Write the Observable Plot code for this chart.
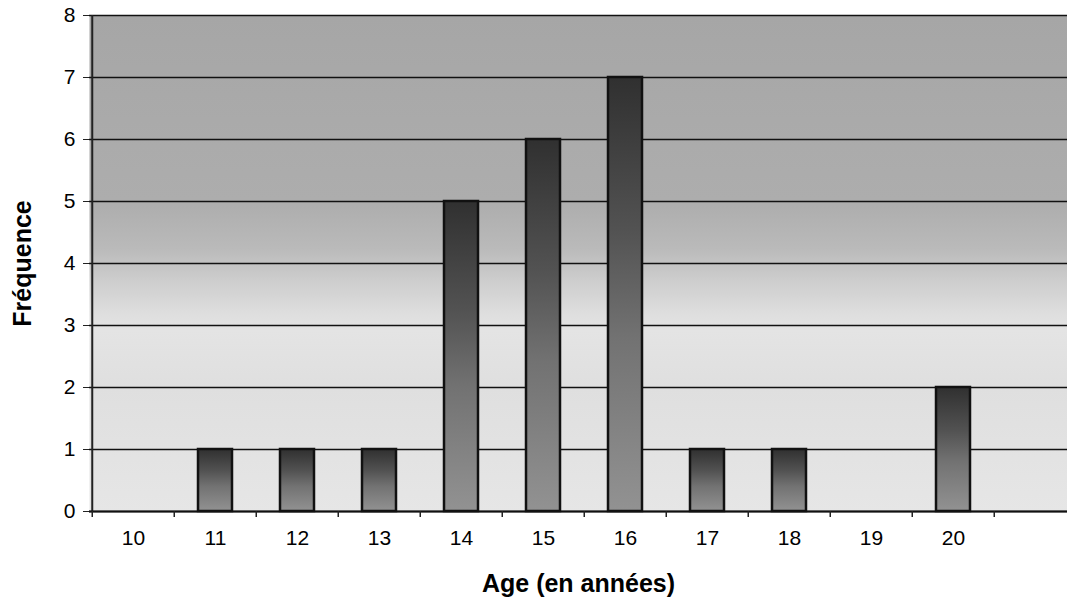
<!DOCTYPE html>
<html>
<head>
<meta charset="utf-8">
<script src="https://cdn.jsdelivr.net/npm/d3@7"></script>
<script src="https://cdn.jsdelivr.net/npm/@observablehq/plot@0.6"></script>
<style>
  html, body { margin: 0; padding: 0; background: #fff; overflow: hidden; }
</style>
</head>
<body>
<div id="chart"></div>
<script>
// ---- data ----
const ages = ["10", "11", "12", "13", "14", "15", "16", "17", "18", "19", "20"];
const emptySlot = ["21"]; // unlabeled category at the right edge (cut off)
const frequencies = [0, 1, 1, 1, 5, 6, 7, 1, 1, 0, 2];
const yTicks = [0, 1, 2, 3, 4, 5, 6, 7, 8];
const xTitle = "Age (en années)";
const yTitle = "Fréquence";

const table = ages.map((a, i) => ({age: a, freq: frequencies[i]}));
const domainX = ages.concat(emptySlot);
const step = 82.5;

const chart = Plot.plot({
  width: 1067,
  height: 598,
  marginTop: 15,
  marginRight: 0,
  marginBottom: 87,
  marginLeft: 89,
  style: {fontFamily: "'Liberation Sans', Arial, sans-serif", fontSize: "21px", color: "black", background: "white"},
  x: {type: "band", domain: domainX, range: [89, 89 + step * domainX.length], paddingInner: 0.59, paddingOuter: 0.295, label: null},
  y: {domain: [0, 8], label: null},
  marks: [
    Plot.frame({fill: "url(#bgGrad)", stroke: null}),
    Plot.frame({fill: "url(#dotTex)", stroke: null}),
    Plot.gridY(yTicks, {stroke: "#111", strokeOpacity: 1, strokeWidth: 1.4}),
    Plot.barY(table.filter(d => d.freq > 0), {x: "age", y: "freq", fill: "url(#barGrad)", stroke: "#111", strokeWidth: 2.5}),
    Plot.ruleX([domainX[0]], {dx: -step / 2, stroke: "#222", strokeWidth: 2}),
    Plot.ruleY([0], {stroke: "#111", strokeWidth: 2}),
    Plot.ruleX(domainX, {x: d => d, y1: 0, y2: 0, dx: -step / 2, insetTop: 6, stroke: "#222", strokeWidth: 1.5}),
    Plot.axisY(yTicks, {label: null, tickSize: 6, tickPadding: 8, fontSize: 21, tickFormat: "d", stroke: "#222"}),
    Plot.axisX({label: null, tickSize: 0, tickPadding: 19, fontSize: 21, tickFormat: d => (emptySlot.includes(d) ? "" : d)}),
    Plot.text([yTitle], {frameAnchor: "left", textAnchor: "middle", lineAnchor: "middle", rotate: -90, dx: -67, fontSize: 25, fontWeight: "bold", letterSpacing: "1.5px"}),
    Plot.text([xTitle], {frameAnchor: "bottom", textAnchor: "middle", lineAnchor: "middle", dy: 72, fontSize: 25, fontWeight: "bold", letterSpacing: "1px"})
  ]
});

// gradient / texture definitions
const svg = d3.select(chart);
const defs = svg.insert("defs", ":first-child");
const bg = defs.append("linearGradient").attr("id", "bgGrad").attr("x1", 0).attr("y1", 0).attr("x2", 0).attr("y2", 1);
[[0, "#a8a8a8"], [0.37, "#afafaf"], [0.47, "#bdbdbd"], [0.53, "#d0d0d0"], [0.595, "#e2e2e2"], [0.635, "#e9e9e9"], [0.75, "#e4e4e4"], [1, "#ebebeb"]]
  .forEach(([o, c]) => bg.append("stop").attr("offset", o).attr("stop-color", c));
const bar = defs.append("linearGradient").attr("id", "barGrad").attr("x1", 0).attr("y1", 0).attr("x2", 0).attr("y2", 1);
[[0, "#303030"], [0.35, "#525252"], [0.6, "#727272"], [1, "#929292"]]
  .forEach(([o, c]) => bar.append("stop").attr("offset", o).attr("stop-color", c));
const pat = defs.append("pattern").attr("id", "dotTex").attr("width", 2).attr("height", 2).attr("patternUnits", "userSpaceOnUse");
pat.append("rect").attr("x", 0).attr("y", 0).attr("width", 1).attr("height", 1).attr("fill", "#000").attr("fill-opacity", 0.1);
pat.append("rect").attr("x", 1).attr("y", 1).attr("width", 1).attr("height", 1).attr("fill", "#fff").attr("fill-opacity", 0.1);

// tick labels size (all texts other than the two titles)
svg.selectAll("text")
  .filter(function () { return this.textContent !== xTitle && this.textContent !== yTitle; })
  .style("font-size", "21px");

document.getElementById("chart").appendChild(chart);
</script>
</body>
</html>
